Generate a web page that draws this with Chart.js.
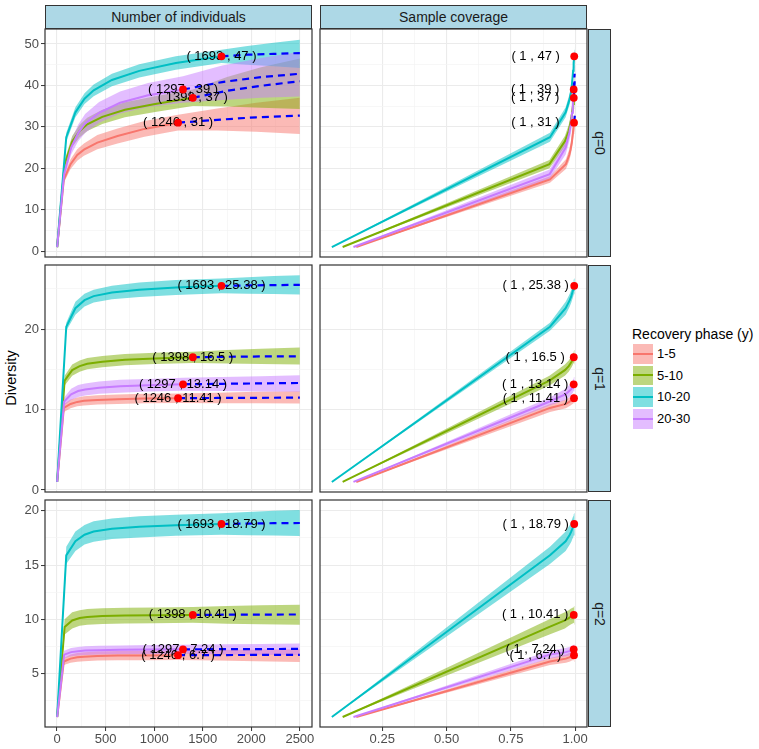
<!DOCTYPE html>
<html>
<head>
<meta charset="utf-8">
<script src="https://cdn.jsdelivr.net/npm/chart.js@4.4.1/dist/chart.umd.min.js"></script>
<style>
  body { margin: 0; background: #fff; font-family: "Liberation Sans", Arial, sans-serif; }
  #fig { position: relative; width: 759px; height: 749px; overflow: hidden; }
  .panel { position: absolute; }
  .strip {
    position: absolute; box-sizing: border-box;
    background: #ADD8E6; border: 1px solid #333;
    display: flex; align-items: center; justify-content: center;
    font-size: 14px; color: #1A1A1A;
  }
  .strip.side span { transform: rotate(90deg); white-space: nowrap; }
  #ytitle {
    position: absolute; left: 11px; top: 378px; font-size: 14.5px; color: #000;
    transform: translate(-50%, -50%) rotate(-90deg); white-space: nowrap;
  }
  #legend { position: absolute; left: 632px; top: 326px; }
  #legend .title { font-size: 14px; color: #000; height: 18px; line-height: 16px; }
  #legend .row { position: relative; height: 21.7px; }
  #legend .key { position: absolute; left: 1px; top: 0; width: 19.5px; height: 19.5px; }
  #legend .key i { position: absolute; left: 0; right: 0; top: 8.75px; height: 2px; }
  #legend .lab { position: absolute; left: 25px; top: 0; line-height: 19.5px; font-size: 13px; color: #000; }
</style>
</head>
<body>
<div id="fig">
  <div id="ytitle">Diversity</div>
  <div id="legend"><div class="title">Recovery phase (y)</div></div>
</div>
<script>
// ---- data ----
const groups = ['1-5', '5-10', '10-20', '20-30'];
const observedSize = [1246, 1398, 1693, 1297];

// sample sizes of the curve knots, one row per group
const knots = [
  [1, 70, 139, 208, 277, 415, 623, 900, 1246, 1650, 2050, 2500],
  [1, 78, 156, 233, 311, 466, 699, 1010, 1398, 1750, 2100, 2500],
  [1, 95, 189, 283, 377, 565, 847, 1223, 1693, 1960, 2230, 2500],
  [1, 73, 145, 217, 289, 433, 649, 937, 1297, 1700, 2100, 2500]
];
// sample coverage at each knot
const coverage = [
  [0.149, 0.902, 0.964, 0.977, 0.982, 0.987, 0.990, 0.993, 0.9955, 0.997, 0.998, 0.9985],
  [0.096, 0.900, 0.960, 0.975, 0.981, 0.986, 0.990, 0.992, 0.9945, 0.996, 0.997, 0.998],
  [0.054, 0.902, 0.963, 0.979, 0.985, 0.989, 0.992, 0.994, 0.9963, 0.9973, 0.998, 0.9985],
  [0.138, 0.901, 0.963, 0.977, 0.984, 0.988, 0.991, 0.993, 0.9943, 0.996, 0.997, 0.998]
];

// q = 0
const q0Est = [
  [1, 17.3, 21.0, 23.2, 24.5, 26.2, 27.8, 29.5, 31, 31.7, 32.3, 32.7],
  [1, 21.0, 26.5, 29.0, 30.6, 32.4, 34.1, 35.5, 37, 38.7, 39.9, 41.0],
  [1, 27.5, 33.5, 36.8, 38.8, 41.3, 43.5, 45.4, 47, 47.4, 47.6, 47.8],
  [1, 18.6, 25.0, 28.5, 30.8, 33.4, 35.8, 37.6, 39, 40.8, 42.0, 42.8]
];
const q0Low = [
  [1, 16.5, 19.8, 21.8, 23.0, 24.6, 26.0, 27.6, 29.1, 29.1, 28.8, 28.3],
  [1, 20.0, 25.2, 27.5, 29.0, 30.7, 32.3, 33.6, 35.0, 34.9, 34.6, 34.3],
  [1, 26.4, 32.3, 35.5, 37.4, 39.8, 41.9, 43.8, 45.4, 45.0, 44.6, 44.2],
  [1, 17.5, 23.3, 26.5, 28.5, 31.0, 33.2, 34.8, 35.8, 36.5, 37.0, 37.3]
];
const q0High = [
  [1, 18.1, 22.2, 24.6, 26.0, 28.0, 29.6, 31.4, 32.9, 34.4, 35.8, 37.0],
  [1, 22.0, 27.8, 30.5, 32.2, 34.1, 35.9, 37.4, 39.0, 42.0, 44.4, 46.5],
  [1, 28.6, 34.7, 38.1, 40.2, 42.8, 45.1, 47.0, 48.6, 49.5, 50.3, 51.0],
  [1, 19.7, 26.7, 30.5, 33.1, 36.0, 38.5, 40.6, 42.2, 44.8, 46.6, 48.1]
];
// q = 1
const q1Est = [
  [1, 10.2, 10.7, 10.95, 11.08, 11.2, 11.29, 11.36, 11.41, 11.44, 11.46, 11.48],
  [1, 13.6, 14.9, 15.4, 15.7, 15.95, 16.2, 16.35, 16.5, 16.56, 16.6, 16.62],
  [1, 20.3, 22.6, 23.6, 24.1, 24.55, 24.9, 25.17, 25.38, 25.43, 25.47, 25.5],
  [1, 11.0, 11.9, 12.3, 12.5, 12.72, 12.9, 13.03, 13.14, 13.2, 13.25, 13.3]
];
const q1Low = [
  [1, 9.7, 10.15, 10.4, 10.5, 10.62, 10.7, 10.77, 10.8, 10.79, 10.77, 10.75],
  [1, 13.0, 14.2, 14.7, 15.0, 15.25, 15.5, 15.65, 15.8, 15.72, 15.65, 15.6],
  [1, 19.8, 21.8, 22.8, 23.3, 23.7, 24.0, 24.25, 24.45, 24.4, 24.35, 24.3],
  [1, 10.5, 11.2, 11.55, 11.75, 11.95, 12.1, 12.25, 12.35, 12.3, 12.25, 12.2]
];
const q1High = [
  [1, 10.7, 11.25, 11.5, 11.65, 11.78, 11.88, 11.95, 12.0, 12.1, 12.2, 12.27],
  [1, 14.2, 15.6, 16.1, 16.4, 16.65, 16.9, 17.05, 17.2, 17.4, 17.55, 17.7],
  [1, 20.8, 23.4, 24.4, 24.9, 25.4, 25.8, 26.1, 26.3, 26.45, 26.6, 26.7],
  [1, 11.5, 12.6, 13.05, 13.25, 13.5, 13.7, 13.8, 13.95, 14.05, 14.15, 14.25]
];
// q = 2
const q2Est = [
  [1, 6.12, 6.38, 6.5, 6.56, 6.62, 6.66, 6.68, 6.7, 6.71, 6.72, 6.725],
  [1, 9.3, 9.9, 10.12, 10.22, 10.3, 10.35, 10.38, 10.41, 10.43, 10.44, 10.45],
  [1, 15.9, 17.2, 17.8, 18.1, 18.35, 18.53, 18.67, 18.79, 18.83, 18.86, 18.88],
  [1, 6.75, 6.98, 7.07, 7.12, 7.16, 7.2, 7.22, 7.24, 7.255, 7.265, 7.275]
];
const q2Low = [
  [1, 5.8, 6.0, 6.1, 6.15, 6.2, 6.23, 6.24, 6.25, 6.2, 6.13, 6.07],
  [1, 8.6, 9.15, 9.4, 9.5, 9.58, 9.62, 9.65, 9.68, 9.6, 9.55, 9.5],
  [1, 15.1, 16.3, 16.9, 17.15, 17.4, 17.55, 17.7, 17.8, 17.75, 17.72, 17.68],
  [1, 6.4, 6.6, 6.68, 6.72, 6.76, 6.79, 6.8, 6.82, 6.77, 6.73, 6.7]
];
const q2High = [
  [1, 6.45, 6.75, 6.9, 6.97, 7.03, 7.08, 7.1, 7.12, 7.17, 7.21, 7.25],
  [1, 10.0, 10.65, 10.85, 10.95, 11.02, 11.07, 11.1, 11.14, 11.23, 11.3, 11.34],
  [1, 16.7, 18.1, 18.7, 19.05, 19.3, 19.5, 19.65, 19.78, 19.9, 20.0, 20.07],
  [1, 7.1, 7.36, 7.46, 7.52, 7.56, 7.6, 7.63, 7.66, 7.7, 7.74, 7.78]
];

const orderNames = ['q=0', 'q=1', 'q=2'];
const columnNames = ['Number of individuals', 'Sample coverage'];

// ---- ticks ----
const sizeTicks = [0, 500, 1000, 1500, 2000, 2500];
const sizeTickLabels = ['0', '500', '1000', '1500', '2000', '2500'];
const sizeMinor = [250, 750, 1250, 1750, 2250];
const covTicks = [0.25, 0.5, 0.75, 1];
const covTickLabels = ['0.25', '0.50', '0.75', '1.00'];
const covMinor = [0.125, 0.375, 0.625, 0.875];
const yTicks = [[0, 10, 20, 30, 40, 50], [0, 10, 20], [5, 10, 15, 20]];
const yMinor = [[5, 15, 25, 35, 45], [5, 15, 25], [2.5, 7.5, 12.5, 17.5]];

// ---- styles and layout ----
const lineColors = ['#F8766D', '#7CAE00', '#00BFC4', '#C77CFF'];
const bandColors = ['rgba(248,118,109,0.5)', 'rgba(124,174,0,0.5)', 'rgba(0,191,196,0.5)', 'rgba(199,124,255,0.5)'];
const yRange = [[-1.4, 53.6], [-0.25, 27.97], [0.08, 21.0]];
const xRange = [[-124, 2625], [0.008, 1.046]];
const colLeft = [45, 320], colRight = [312, 587];
const rowTop = [29, 265, 500], rowBottom = [257, 492, 727];
const M = 10;

Chart.defaults.font.family = '"Liberation Sans", Arial, sans-serif';

const panelBorder = {
  id: 'panelBorder',
  afterDraw(chart) {
    const {ctx, chartArea: a} = chart;
    ctx.save();
    ctx.strokeStyle = '#333';
    ctx.lineWidth = 1.2;
    ctx.strokeRect(a.left, a.top, a.right - a.left, a.bottom - a.top);
    ctx.restore();
  }
};

const obsLabels = {
  id: 'obsLabels',
  beforeDatasetDraw(chart, args) {
    const ds = chart.data.datasets[args.index];
    if (ds.kind !== 'points') return;
    const {ctx, scales} = chart;
    ctx.save();
    ctx.font = '13px "Liberation Sans", Arial, sans-serif';
    ctx.fillStyle = '#000';
    ctx.textAlign = 'center';
    ctx.textBaseline = 'middle';
    ds.data.forEach(p => {
      ctx.fillText(p.label, scales.x.getPixelForValue(p.x - ds.labelShift), scales.y.getPixelForValue(p.y));
    });
    ctx.restore();
  }
};

function gridFor(majors, showTicks) {
  return {
    color: c => majors.includes(c.tick.value) ? '#EBEBEB' : '#F3F3F3',
    lineWidth: c => majors.includes(c.tick.value) ? 1.1 : 0.7,
    drawTicks: showTicks,
    tickLength: 4,
    tickWidth: 1,
    tickColor: c => majors.includes(c.tick.value) ? '#333' : 'rgba(0,0,0,0)'
  };
}

function buildPanel(row, col) {
  const est = [q0Est, q1Est, q2Est][row];
  const low = [q0Low, q1Low, q2Low][row];
  const high = [q0High, q1High, q2High][row];
  const byCov = col === 1;
  const xOf = (g, i) => byCov ? coverage[g][i] : knots[g][i];
  const axisW = col === 0 ? 45 : 0;
  const axisH = row === 2 ? 26 : 0;

  const div = document.createElement('div');
  div.className = 'panel';
  div.style.left = (colLeft[col] - axisW - M) + 'px';
  div.style.top = (rowTop[row] - M) + 'px';
  div.style.width = (colRight[col] - colLeft[col] + axisW + 2 * M) + 'px';
  div.style.height = (rowBottom[row] - rowTop[row] + axisH + 2 * M) + 'px';
  const canvas = document.createElement('canvas');
  div.appendChild(canvas);
  document.getElementById('fig').appendChild(div);

  const datasets = [];
  groups.forEach((name, g) => {
    const pts = arr => knots[g].map((m, i) => ({x: xOf(g, i), y: arr[g][i]}));
    datasets.push({data: pts(low), borderColor: 'transparent', borderWidth: 0, pointRadius: 0, fill: false, order: 40 - g});
    datasets.push({data: pts(high), borderColor: 'transparent', borderWidth: 0, pointRadius: 0,
      fill: '-1', backgroundColor: bandColors[g], order: 40 - g});
  });
  groups.forEach((name, g) => {
    const k = knots[g].indexOf(observedSize[g]);
    const line = knots[g].map((m, i) => ({x: xOf(g, i), y: est[g][i]}));
    datasets.push({data: line.slice(0, k + 1), borderColor: lineColors[g], borderWidth: 2,
      pointRadius: 0, fill: false, order: 30 - g});
    datasets.push({data: line.slice(k), borderColor: '#0000FF', borderWidth: 2.2, borderDash: [7, 5],
      pointRadius: 0, fill: false, order: 20 - g});
  });
  const obs = groups.map((name, g) => {
    const k = knots[g].indexOf(observedSize[g]);
    const first = byCov ? Math.round(coverage[g][k]) : observedSize[g];
    return {x: xOf(g, k), y: est[g][k], label: '( ' + first + ' , ' + est[g][k] + ' )'};
  });
  datasets.push({data: obs, kind: 'points', labelShift: byCov ? 0.15 : 0, showLine: false,
    pointRadius: 3.9, pointBackgroundColor: '#FF0000', pointBorderWidth: 0, clip: false, order: 0});

  const xMaj = byCov ? covTicks : sizeTicks;
  const xMin = byCov ? covMinor : sizeMinor;
  const xLab = byCov ? covTickLabels : sizeTickLabels;

  new Chart(canvas, {
    type: 'line',
    data: {datasets},
    options: {
      animation: false,
      responsive: true,
      maintainAspectRatio: false,
      layout: {padding: M, autoPadding: false},
      plugins: {legend: {display: false}, tooltip: {enabled: false}},
      elements: {line: {tension: 0}},
      scales: {
        x: {
          type: 'linear', min: xRange[col][0], max: xRange[col][1],
          afterBuildTicks: s => { s.ticks = xMaj.concat(xMin).sort((a, b) => a - b).map(v => ({value: v})); },
          afterFit: s => { s.height = axisH; s.paddingLeft = 0; s.paddingRight = 0; },
          grid: gridFor(xMaj, row === 2),
          border: {display: false},
          ticks: {
            display: row === 2, autoSkip: false, maxRotation: 0, padding: 1,
            color: '#4D4D4D', font: {size: 13},
            callback: v => { const i = xMaj.indexOf(v); return i < 0 ? '' : xLab[i]; }
          }
        },
        y: {
          type: 'linear', min: yRange[row][0], max: yRange[row][1],
          afterBuildTicks: s => { s.ticks = yTicks[row].concat(yMinor[row]).sort((a, b) => a - b).map(v => ({value: v})); },
          afterFit: s => { s.width = axisW; s.paddingTop = 0; s.paddingBottom = 0; },
          grid: gridFor(yTicks[row], col === 0),
          border: {display: false},
          ticks: {
            display: col === 0, autoSkip: false, padding: 2,
            color: '#4D4D4D', font: {size: 13},
            callback: v => yTicks[row].includes(v) ? String(v) : ''
          }
        }
      }
    },
    plugins: [obsLabels, panelBorder]
  });
}

function addStrip(text, left, top, width, height, side) {
  const s = document.createElement('div');
  s.className = 'strip' + (side ? ' side' : '');
  Object.assign(s.style, {left: left + 'px', top: top + 'px', width: width + 'px', height: height + 'px'});
  const span = document.createElement('span');
  span.textContent = text;
  s.appendChild(span);
  document.getElementById('fig').appendChild(s);
}

for (let r = 0; r < 3; r++) {
  for (let c = 0; c < 2; c++) buildPanel(r, c);
  addStrip(orderNames[r], 588, rowTop[r], 23, rowBottom[r] - rowTop[r], true);
}
columnNames.forEach((name, c) => addStrip(name, colLeft[c], 5, colRight[c] - colLeft[c], 24, false));

const legend = document.getElementById('legend');
groups.forEach((name, g) => {
  const row = document.createElement('div');
  row.className = 'row';
  row.innerHTML = '<div class="key" style="background:' + bandColors[g] + '"><i style="background:' +
    lineColors[g] + '"></i></div><div class="lab"></div>';
  row.querySelector('.lab').textContent = name;
  legend.appendChild(row);
});
</script>
</body>
</html>
